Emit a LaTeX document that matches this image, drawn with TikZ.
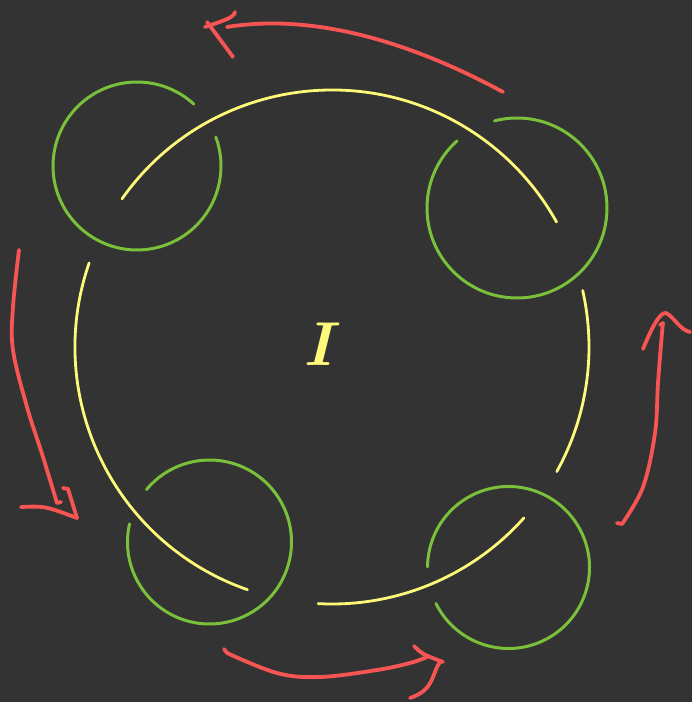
\documentclass[tikz,border=0pt]{standalone}
\usepackage{fontspec}
\definecolor{bg}{HTML}{333333}
\definecolor{yel}{HTML}{FFF97A}
\definecolor{grn}{HTML}{7AC03A}
\definecolor{redc}{HTML}{F75454}
\begin{document}
\begin{tikzpicture}[x=1pt,y=1pt,line cap=round,line join=round,
  yarc/.style={draw=yel,line width=2.8pt},
  garc/.style={draw=grn,line width=3pt},
  rarrow/.style={draw=redc,line width=3.8pt}]
\fill[bg] (0,0) rectangle (692,702);
\useasboundingbox (0,0) rectangle (692,702);
% centres
\coordinate (big) at (332,355);
\coordinate (g1) at (137,536);
\coordinate (g2) at (517,494);
\coordinate (g3) at (209.5,160);
\coordinate (g4) at (508.5,134.5);
% yellow circle pieces
\draw[yarc] (big) ++(144.8:257) arc[start angle=144.8,end angle=29.1,radius=257];
\draw[yarc] (big) ++(12.7:257) arc[start angle=12.7,end angle=-29,radius=257];
\draw[yarc] (big) ++(-41.7:257) arc[start angle=-41.7,end angle=-93.1,radius=257];
\draw[yarc] (big) ++(160.9:257) arc[start angle=160.9,end angle=250.8,radius=257];
% green circles
\draw[garc] (g1) ++(47.4:84) arc[start angle=47.4,end angle=380.2,radius=84];
\draw[garc] (g2) ++(131.8:90) arc[start angle=131.8,end angle=464.5,radius=90];
\draw[garc] (g3) ++(167.2:82) arc[start angle=167.2,end angle=500.2,radius=82];
\draw[garc] (g4) ++(206.4:81) arc[start angle=206.4,end angle=539.6,radius=81];
% label
\node[text=yel,font=\fontsize{62}{62}\selectfont\bfseries\itshape] (lbl) at (318,358) {I};
% red arrows
% top
\draw[rarrow] (503,610) .. controls (420,655) and (320,690) .. (227,675);
\draw[rarrow] (205,675) .. controls (222,681) and (234,684) .. (235,690);
\draw[rarrow] (207,680) .. controls (216,668) .. (233,645);
% left
\draw[rarrow] plot[smooth,tension=0.6] coordinates {(19,452) (13,395) (13,352) (27,295) (43,245) (57,199)} -- (61,200);
\draw[rarrow] (21,195) .. controls (45,196) .. (77,184);
\draw[rarrow] (63,214) -- (68,213) .. controls (72,200) .. (77,184);
% right
\draw[rarrow] (617,179) -- (622,178);
\draw[rarrow] plot[smooth,tension=0.6] coordinates {(622,178) (643,215) (655,269) (658,319) (662,369) (663,379)} -- (660,377);
\draw[rarrow] (643,353) .. controls (652,375) and (660,390) .. (666,389) .. controls (674,385) and (680,372) .. (690,370);
% bottom
\draw[rarrow] (224,53) -- (227,49);
\draw[rarrow] plot[smooth,tension=0.6] coordinates {(227,49) (277,29) (320,25) (377,32) (410,39) (427,45)};
\draw[rarrow] (414,56) .. controls (422,48) .. (443,40);
\draw[rarrow] (440,40) .. controls (432,30) and (435,12) .. (410,4);
\end{tikzpicture}
\end{document}
